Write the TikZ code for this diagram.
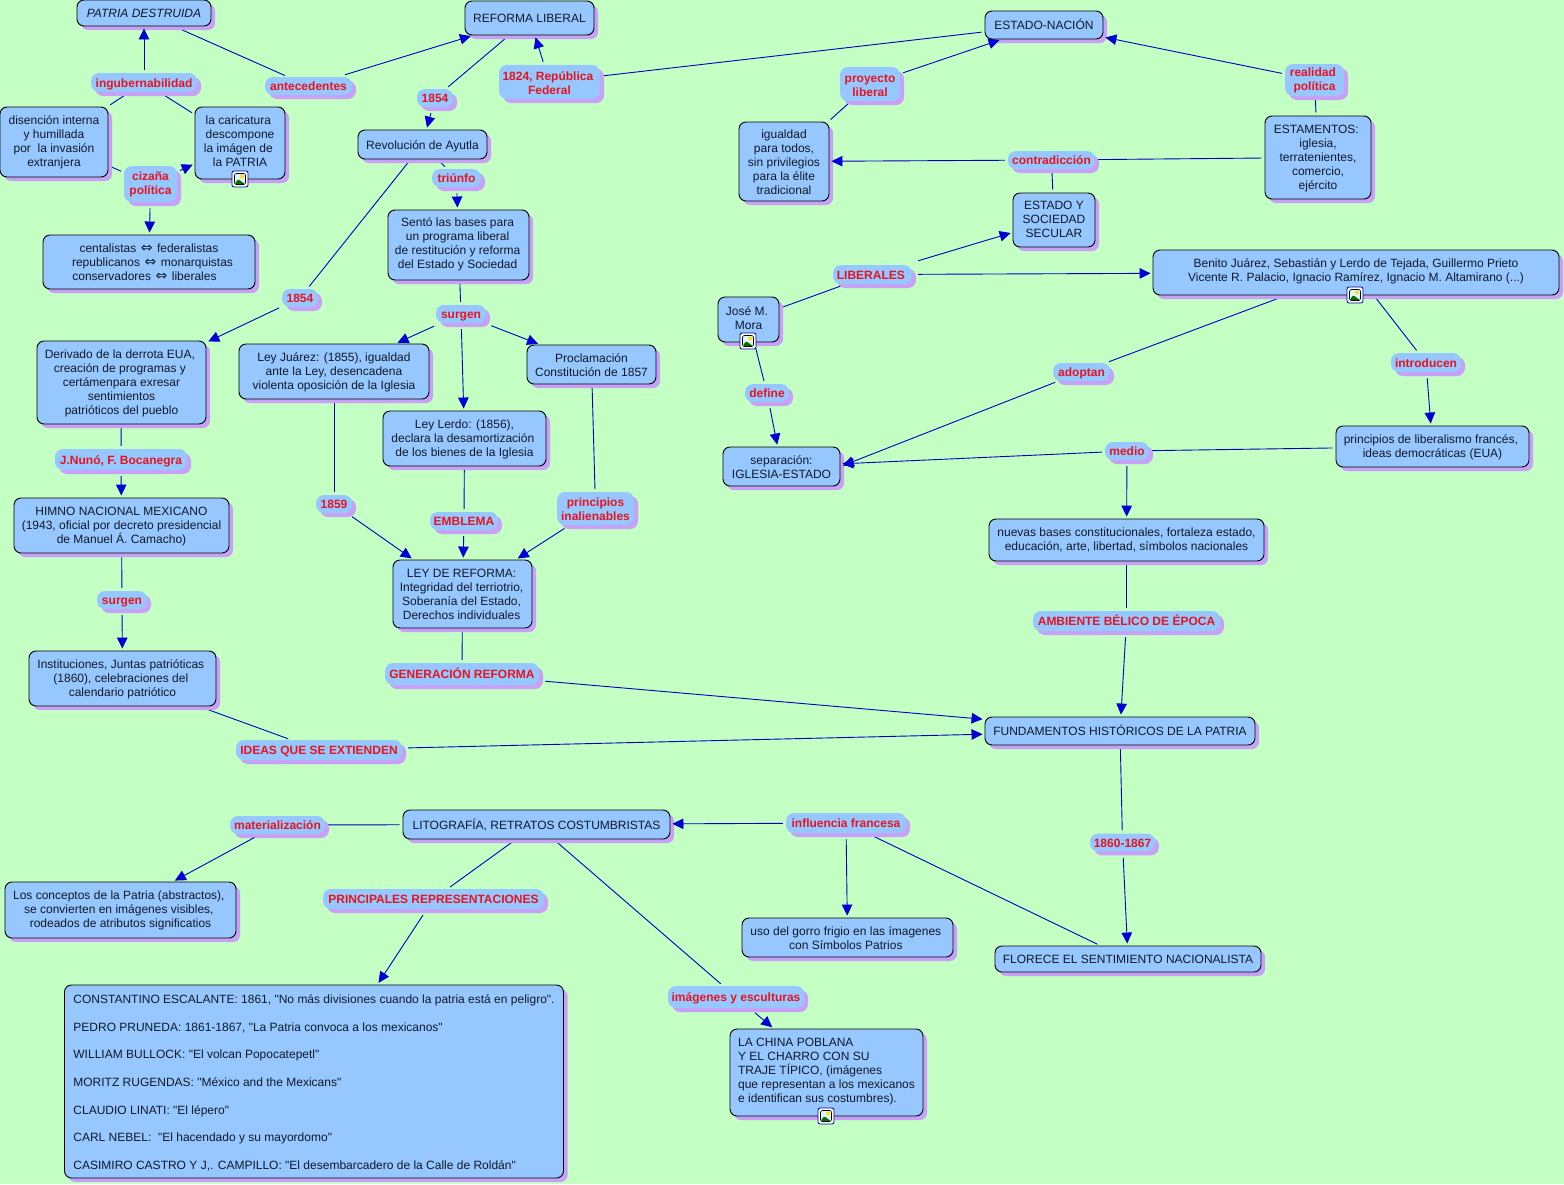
\documentclass[tikz,border=0pt]{standalone}
\usepackage{fontspec}
\setmainfont{Liberation Sans}[Ligatures=TeXOff]
\newfontfamily\symfont{DejaVu Sans}
\usetikzlibrary{arrows.meta,shadows,backgrounds}
\definecolor{bgmap}{HTML}{C4FFC4}
\definecolor{boxmap}{HTML}{96C8FF}
\definecolor{shademap}{HTML}{C8A0F8}
\definecolor{redmap}{HTML}{E6141E}
\definecolor{bluemap}{HTML}{0000E0}
\definecolor{inkmap}{HTML}{10182A}
\newcommand{\bothways}{\kern1.2pt\smash{\symfont\fontsize{14}{14}\selectfont ⇔}\kern1.2pt}
\newcommand{\iconroom}{\rule[-8.2pt]{0pt}{1pt}}
\newcommand{\toproom}[1]{\rule{0pt}{#1pt}}
\newcommand{\trail}{\kern3.3pt}
\newcommand{\trailsmall}{\kern1.8pt}
\tikzset{
	wh/.style 2 args={minimum width=#1pt,minimum height=#2pt},
	mapshadow/.style={drop shadow={shadow xshift=4pt,shadow yshift=-4pt,fill=shademap,opacity=1}},
	maptext/.style={inner sep=0pt,align=center,execute at begin node={\rule{0pt}{13.5pt}},execute at end node=\strut},
	concept/.style={rectangle,rounded corners=7pt,draw=black,line width=0.9pt,fill=boxmap,mapshadow,maptext,text=inkmap,font=\fontsize{12}{14}\selectfont},
	phrase/.style={rectangle,rounded corners=8pt,fill=boxmap,mapshadow,maptext,text=redmap,font=\bfseries\fontsize{12}{14}\selectfont},
	link/.style={blue!75!black,line width=0.9pt,shorten <=3pt,shorten >=3pt},
	linkto/.style={link,shorten <=6pt,shorten >=2pt,-{Triangle[length=11pt,width=10.5pt,fill=bluemap]}},
	startgap/.style={shorten <=#1pt},
	imgicon/.style={rectangle,rounded corners=2pt,draw=blue!60!black,line width=0.8pt,fill=white,minimum size=16pt,inner sep=0pt,
		path picture={
			\fill[cyan!12] ([shift={(-5.5,-5.5)}]path picture bounding box.center) rectangle ([shift={(5.5,5.5)}]path picture bounding box.center);
			\fill[yellow!85!orange] ([shift={(2,-2.5)}]path picture bounding box.center) circle (2pt);
			\fill[green!45!black] ([shift={(-5.5,5.5)}]path picture bounding box.center) -- ([shift={(-2,0)}]path picture bounding box.center) -- ([shift={(5.5,5.5)}]path picture bounding box.center) -- cycle;
			\draw[black,line width=0.6pt] ([shift={(-5.5,-5.5)}]path picture bounding box.center) rectangle ([shift={(5.5,5.5)}]path picture bounding box.center);
		}}
}
\begin{document}
\begin{tikzpicture}[x=1pt,y=-1pt]
	\useasboundingbox (0,0) rectangle (1564,1184);
	% concepts
	\node[concept,wh={134}{26},font=\itshape\fontsize{12}{14}\selectfont] (patria) at (144,13) {PATRIA DESTRUIDA};
	\node[concept,wh={129}{34}] (reforma) at (529.5,18) {REFORMA LIBERAL};
	\node[concept,wh={118}{28}] (estado) at (1044,25) {ESTADO-NACIÓN};
	\node[concept,wh={108}{70}] (disension) at (54,142) {\toproom{12}disención interna\\y humillada\\por\ \ la invasión\\extranjera};
	\node[concept,wh={90}{72}] (caricatura) at (240,143) {\toproom{14}la caricatura\trail\\descompone\\la imágen de\trail\\la PATRIA\iconroom};
	\node[concept,wh={212}{54}] (centalistas) at (149,262) {\toproom{14}centalistas \bothways{} federalistas\\\kern7pt republicanos \bothways{} monarquistas\\conservadores \bothways{} liberales\kern9pt};
	\node[concept,wh={129}{29}] (revolucion) at (422.5,144.5) {Revolución de Ayutla};
	\node[concept,wh={141}{70}] (sento) at (458.5,245) {Sentó las bases para\trailsmall\\un programa liberal\trailsmall\\de restitución y reforma\trailsmall\\del Estado y Sociedad\trailsmall};
	\node[concept,wh={90}{79}] (igualdad) at (784,161.5) {\toproom{14}igualdad\\para todos,\\sin privilegios\\para la élite\\tradicional};
	\node[concept,wh={106}{83}] (estamentos) at (1318,157.5) {\toproom{12}ESTAMENTOS:\trail\\iglesia,\\terratenientes,\\comercio,\\ejército};
	\node[concept,wh={82}{54}] (secular) at (1054,220) {\toproom{12}ESTADO Y\\SOCIEDAD\\SECULAR};
	\node[concept,wh={406}{45}] (benito) at (1356,272.5) {\toproom{12}Benito Juárez, Sebastián y Lerdo de Tejada, Guillermo Prieto\\Vicente R. Palacio, Ignacio Ramírez, Ignacio M. Altamirano (...)\iconroom};
	\node[concept,wh={61}{45}] (mora) at (748.5,319.5) {\toproom{14}José M.\trail\\Mora\iconroom};
	\node[concept,wh={169}{83}] (derivado) at (121.5,382.5) {\toproom{12}Derivado de la derrota EUA,\trail\\creación de programas y\trail\\certámenpara exresar\\sentimientos\\patrióticos del pueblo};
	\node[concept,wh={190}{55}] (juarez) at (334,371.5) {\toproom{12}Ley Juárez: (1855), igualdad\\ante la Ley, desencadena\\violenta oposición de la Iglesia};
	\node[concept,wh={129}{39}] (proclamacion) at (591.5,364.5) {\toproom{14}Proclamación\\Constitución de 1857};
	\node[concept,wh={163}{55}] (lerdo) at (464.5,438.5) {\toproom{12}Ley Lerdo: (1856),\\declara la desamortización\trail\\de los bienes de la Iglesia};
	\node[concept,wh={117}{39}] (separacion) at (781.5,466.5) {\toproom{14}separación:\\IGLESIA-ESTADO};
	\node[concept,wh={193}{41}] (liberalismo) at (1432.5,446.5) {\toproom{12}principios de liberalismo francés,\trail\\ideas democráticas (EUA)};
	\node[concept,wh={275}{42}] (bases) at (1126.5,540) {\toproom{12}nuevas bases constitucionales, fortaleza estado,\\educación, arte, libertad, símbolos nacionales};
	\node[concept,wh={215}{55}] (himno) at (121.5,525.5) {\toproom{12}HIMNO NACIONAL MEXICANO\\(1943, oficial por decreto presidencial\\de Manuel Á. Camacho)};
	\node[concept,wh={139}{68}] (leyreforma) at (462.5,594) {\toproom{14}LEY DE REFORMA:\trailsmall\\Integridad del terriotrio,\trailsmall\\Soberanía del Estado,\trailsmall\\Derechos individuales\trailsmall};
	\node[concept,wh={187}{55}] (instituciones) at (122.5,678.5) {\toproom{12}Instituciones, Juntas patrióticas\trail\\(1860), celebraciones del\trail\\calendario patriótico};
	\node[concept,wh={270}{28}] (fundamentos) at (1120,731) {FUNDAMENTOS HISTÓRICOS DE LA PATRIA};
	\node[concept,wh={267}{29}] (litografia) at (536.5,824.5) {LITOGRAFÍA, RETRATOS COSTUMBRISTAS};
	\node[concept,wh={231}{56}] (conceptos) at (120.5,910) {\toproom{12}Los conceptos de la Patria (abstractos),\trail\\se convierten en imágenes visibles,\trail\\rodeados de atributos significatios};
	\node[concept,wh={211}{39}] (gorro) at (847.5,937.5) {\toproom{14}uso del gorro frigio en las ímagenes\trail\\con Símbolos Patrios\trail};
	\node[concept,wh={266}{26}] (florece) at (1128,959) {FLORECE EL SENTIMIENTO NACIONALISTA};
	\node[concept,wh={499}{193},align=left] (constantino) at (314,1081.5) {\toproom{14}CONSTANTINO ESCALANTE: 1861, "No más divisiones cuando la patria está en peligro".\\[13.7pt]PEDRO PRUNEDA: 1861-1867, "La Patria convoca a los mexicanos"\\[13.7pt]WILLIAM BULLOCK: "El volcan Popocatepetl"\\[13.7pt]MORITZ RUGENDAS: "México and the Mexicans"\\[13.7pt]CLAUDIO LINATI: "El lépero"\\[13.7pt]CARL NEBEL:\ \ "El hacendado y su mayordomo"\\[13.7pt]CASIMIRO CASTRO Y J,. CAMPILLO: "El desembarcadero de la Calle de Roldán"};
	\node[concept,wh={193}{87},align=left] (china) at (826.5,1072.5) {\toproom{12}LA CHINA POBLANA\\Y EL CHARRO CON SU\\TRAJE TÍPICO, (imágenes\\que representan a los mexicanos\\e identifican sus costumbres).\iconroom};
	% linking phrases
	\node[phrase,wh={106}{19}] (ingub) at (144,82.5) {ingubernabilidad};
	\node[phrase,wh={87}{18}] (antecedentes) at (308.5,86) {antecedentes};
	\node[phrase,wh={53}{36}] (cizana) at (150.5,184) {\toproom{12}cizaña\\política};
	\node[phrase,wh={36}{18}] (ayutlayear) at (435,98) {1854};
	\node[phrase,wh={101}{32}] (federal) at (549.5,82) {\toproom{16}1824, República\trail\\Federal};
	\node[phrase,wh={60}{32}] (proyecto) at (870,84) {\toproom{16}proyecto\\liberal};
	\node[phrase,wh={59}{32}] (realidad) at (1314.5,80) {\toproom{12}realidad\trail\\política};
	\node[phrase,wh={87}{18}] (contradiccion) at (1051.5,160) {contradicción};
	\node[phrase,wh={49}{18}] (triunfo) at (456.5,178) {triúnfo};
	\node[phrase,wh={36}{18}] (derrotayear) at (300,298) {1854};
	\node[phrase,wh={50}{18}] (surgen) at (461,314) {surgen};
	\node[phrase,wh={79}{19}] (liberales) at (872.5,274.5) {LIBERALES\trail};
	\node[phrase,wh={44}{18}] (define) at (767,393) {define};
	\node[phrase,wh={57}{18}] (adoptan) at (1081.5,372) {adoptan};
	\node[phrase,wh={70}{19}] (introducen) at (1426,362.5) {introducen};
	\node[phrase,wh={44}{18}] (medio) at (1127,451) {medio};
	\node[phrase,wh={132}{21}] (nuno) at (121,459.5) {J.Nunó, F. Bocanegra};
	\node[phrase,wh={36}{18}] (juarezyear) at (334,504) {1859};
	\node[phrase,wh={68}{18}] (emblema) at (464,521) {EMBLEMA};
	\node[phrase,wh={77}{33}] (inalienables) at (595.5,508.5) {\toproom{14}principios\\inalienables};
	\node[phrase,wh={50}{18}] (surgenb) at (122,600) {surgen};
	\node[phrase,wh={187}{20}] (ambiente) at (1126.5,621) {AMBIENTE BÉLICO DE ÉPOCA};
	\node[phrase,wh={154}{22}] (generacion) at (462,674) {GENERACIÓN REFORMA};
	\node[phrase,wh={166}{20}] (ideas) at (319,750) {IDEAS QUE SE EXTIENDEN};
	\node[phrase,wh={95}{18}] (materializacion) at (277.5,825) {materialización};
	\node[phrase,wh={120}{20}] (influencia) at (846,823) {influencia francesa};
	\node[phrase,wh={65}{17}] (periodo) at (1122.5,842.5) {1860-1867};
	\node[phrase,wh={221}{20}] (principales) at (433.5,899) {PRINCIPALES REPRESENTACIONES};
	\node[phrase,wh={136}{22}] (imagenes) at (736,997) {imágenes y esculturas};
	% image icons
	\node[imgicon] (iconcaricatura) at (240,179) {};
	\node[imgicon] (iconbenito) at (1355,295) {};
	\node[imgicon] (iconmora) at (748,341) {};
	\node[imgicon] (iconchina) at (826,1116) {};
	% connectors with an arrow
	\draw[linkto,startgap=3] (ingub) -- (patria);
	\draw[linkto,startgap=7] (antecedentes) -- (reforma);
	\draw[linkto,startgap=3] (cizana) -- (caricatura);
	\draw[linkto] (cizana) -- (centalistas);
	\draw[linkto] (ayutlayear) -- (revolucion);
	\draw[linkto,startgap=3] (federal) -- (reforma);
	\draw[linkto,startgap=3] (proyecto) -- (estado);
	\draw[linkto,startgap=3] (realidad) -- (estado);
	\draw[linkto,startgap=3] (contradiccion) -- (igualdad);
	\draw[linkto] (triunfo) -- (sento);
	\draw[linkto,startgap=3] (derrotayear) -- (derivado);
	\draw[linkto,startgap=7] (surgen) -- (juarez);
	\draw[linkto] (surgen) -- (lerdo);
	\draw[linkto,startgap=7] (surgen) -- (proclamacion);
	\draw[linkto] (juarezyear) -- (leyreforma);
	\draw[linkto] (emblema) -- (leyreforma);
	\draw[linkto] (inalienables) -- (leyreforma);
	\draw[linkto] (generacion) -- (fundamentos);
	\draw[linkto,startgap=14] (liberales) -- (secular);
	\draw[linkto] (liberales) -- (benito);
	\draw[linkto] (define) -- (separacion);
	\draw[linkto,startgap=3,shorten >=2.5pt] (adoptan) -- (separacion.east);
	\draw[linkto] (introducen) -- (liberalismo);
	\draw[linkto,startgap=3] (medio) -- (separacion);
	\draw[linkto] (medio) -- (bases);
	\draw[linkto] (ambiente) -- (fundamentos);
	\draw[linkto] (nuno) -- (himno);
	\draw[linkto] (surgenb) -- (instituciones);
	\draw[linkto] (ideas) -- (fundamentos);
	\draw[linkto] (periodo) -- (florece);
	\draw[linkto,startgap=3] (influencia) -- (litografia);
	\draw[linkto] (influencia) -- (gorro);
	\draw[linkto,startgap=7] (materializacion) -- (conceptos);
	\draw[linkto,startgap=7] (principales) -- (constantino);
	\draw[linkto,startgap=7] (imagenes) -- (china);
	\begin{scope}[on background layer]
		\fill[bgmap] (0,0) rectangle (1564,1184);
		% plain connectors run behind the shadows
		\draw[link] (patria) -- (antecedentes);
		\draw[link] (ingub) -- (disension);
		\draw[link] (ingub) -- (caricatura);
		\draw[link] (disension) -- (cizana);
		\draw[link] (reforma) -- (ayutlayear);
		\draw[link] (estado) -- (federal);
		\draw[link] (igualdad) -- (proyecto);
		\draw[link] (estamentos) -- (realidad);
		\draw[link] (estamentos) -- (contradiccion);
		\draw[link] (contradiccion) -- (secular);
		\draw[link] (revolucion) -- (triunfo);
		\draw[link] (revolucion) -- (derrotayear);
		\draw[link] (sento) -- (surgen);
		\draw[link] (juarez) -- (juarezyear);
		\draw[link] (lerdo) -- (emblema);
		\draw[link] (proclamacion) -- (inalienables);
		\draw[link] (leyreforma) -- (generacion);
		\draw[link] (mora) -- (liberales);
		\draw[link] (mora) -- (define);
		\draw[link] ([xshift=-70pt]benito.south) -- (adoptan);
		\draw[link] (benito) -- (introducen);
		\draw[link] (liberalismo) -- (medio);
		\draw[link] (bases) -- (ambiente);
		\draw[link] (derivado) -- (nuno);
		\draw[link] (himno) -- (surgenb);
		\draw[link] (instituciones) -- (ideas);
		\draw[link] (fundamentos) -- (periodo);
		\draw[link] (influencia) -- (florece);
		\draw[link] (litografia) -- (materializacion);
		\draw[link] (litografia) -- (principales);
		\draw[link] (litografia) -- (imagenes);
	\end{scope}
\end{tikzpicture}
\end{document}
